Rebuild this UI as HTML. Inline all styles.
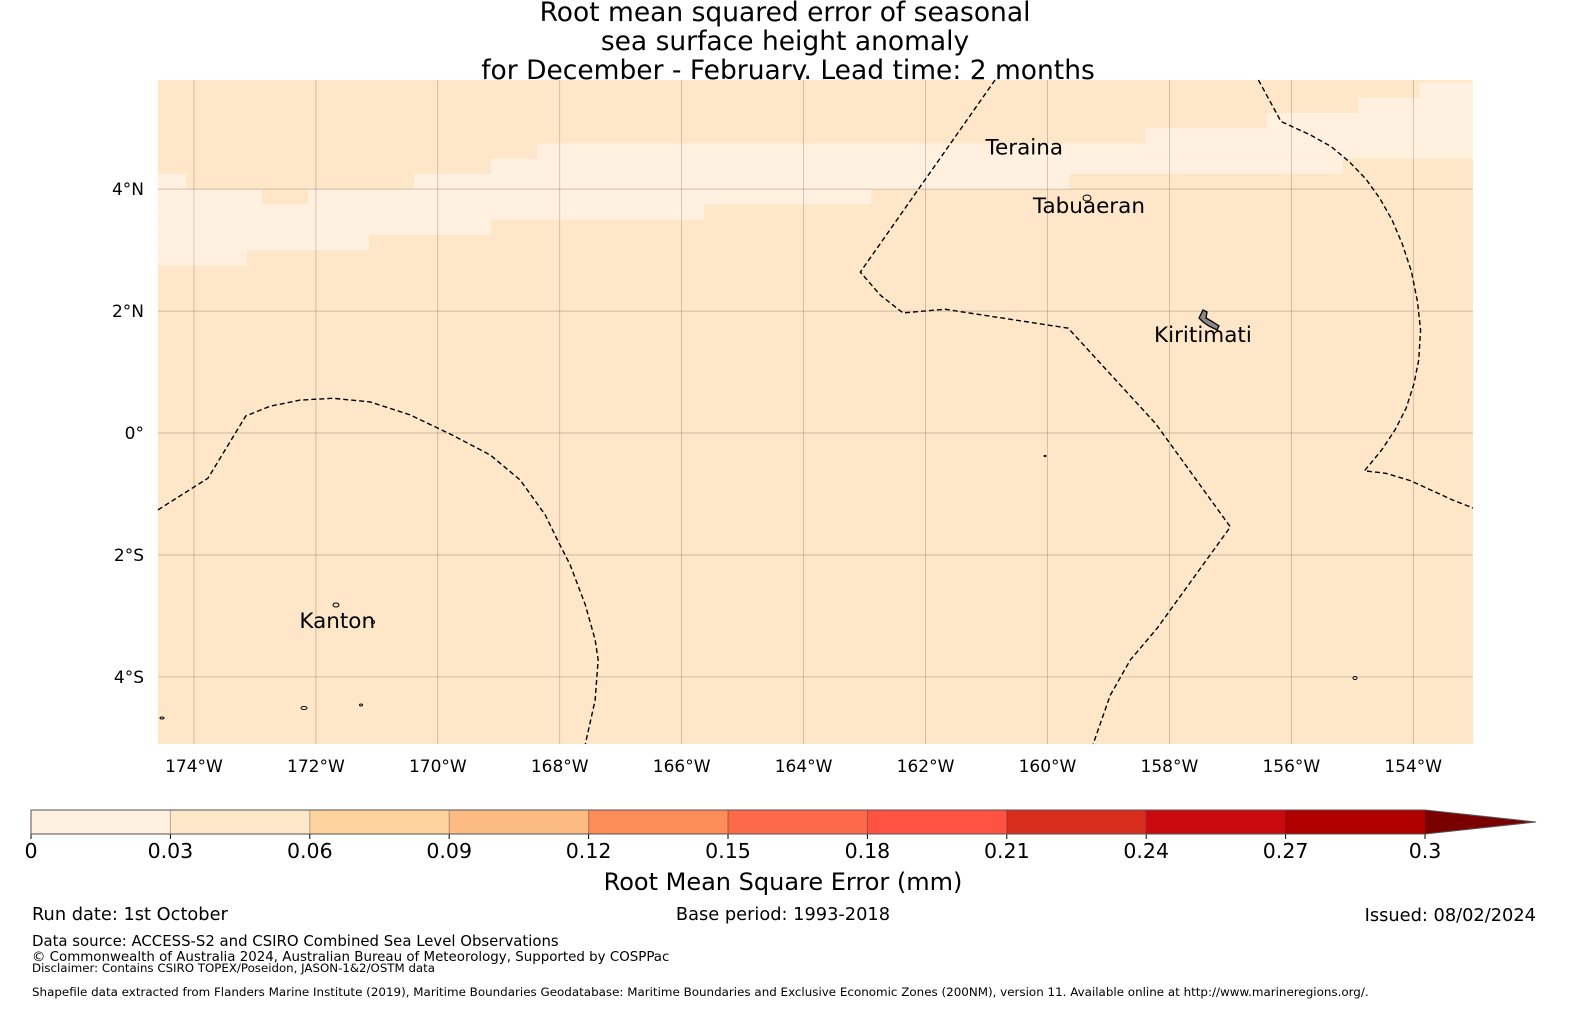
<!DOCTYPE html>
<html><head><meta charset="utf-8"><style>
body{margin:0;background:#fff;}
svg{display:block;font-family:"DejaVu Sans","Liberation Sans",sans-serif;}
</style></head><body>
<svg width="1590" height="1020" viewBox="0 0 1590 1020">
<g id="titles" font-size="26.5" text-anchor="middle" fill="#000">
<text x="785" y="21">Root mean squared error of seasonal</text>
<text x="785" y="50">sea surface height anomaly</text>
<text x="788" y="79">for December - February. Lead time: 2 months</text>
</g>
<g id="map"></g>
<g id="cbar"></g>
<text x="783" y="890" font-size="24" text-anchor="middle">Root Mean Square Error (mm)</text>
<g font-size="17.8">
<text x="32" y="920">Run date: 1st October</text>
<text x="783" y="920" text-anchor="middle">Base period: 1993-2018</text>
<text x="1536" y="921" text-anchor="end">Issued: 08/02/2024</text>
<text x="32" y="946" font-size="14.9">Data source: ACCESS-S2 and CSIRO Combined Sea Level Observations</text>
<text x="32" y="961" font-size="13.4">© Commonwealth of Australia 2024, Australian Bureau of Meteorology, Supported by COSPPac</text>
<text x="32" y="972" font-size="11.8">Disclaimer: Contains CSIRO TOPEX/Poseidon, JASON-1&amp;2/OSTM data</text>
<text x="32" y="996" font-size="11.9">Shapefile data extracted from Flanders Marine Institute (2019), Maritime Boundaries Geodatabase: Maritime Boundaries and Exclusive Economic Zones (200NM), version 11. Available online at http://www.marineregions.org/.</text>
</g>
</svg>
<script>
const NS='http://www.w3.org/2000/svg';
const lonTicks=[-174,-172,-170,-168,-166,-164,-162,-160,-158,-156,-154];
const latTicks=[4,2,0,-2,-4];
const lonRange=[-174.59,-153.02];
const latRange=[5.79,-5.1];
const cbLevels=[0,0.03,0.06,0.09,0.12,0.15,0.18,0.21,0.24,0.27,0.3];
const cbColors=['#fff0df','#fee6c8','#fdd49e','#fdbb84','#fc8d59','#fc6a4a','#fe5343','#d92e1e','#cb0a0f','#b00000'];
const cbExtend='#7a0000';
const baseValue=0.045;
// light cells [lon0, lon1, latTop, latBottom, value]
const cellLon0=[-174.59,-170.39,-169.13,-168.37,-158.40,-158.40,-156.40,-154.90,-153.90,-174.59,-172.13,-174.59,-174.59,-174.59,-174.59];
const cellLon1=[-174.13,-159.64,-168.37,-158.40,-156.40,-155.15,-154.90,-153.90,-153.02,-172.88,-162.89,-165.63,-169.13,-171.13,-173.13];
const cellLatT=[4.25,4.25,4.5,4.75,5.0,4.5,5.25,5.5,5.75,4.0,4.0,3.75,3.5,3.25,3.0];
const cellLatB=[4.0,4.0,4.25,4.25,4.5,4.25,4.5,4.5,4.5,3.75,3.75,3.5,3.25,3.0,2.75];
const cellVal=[0.025,0.025,0.025,0.025,0.025,0.025,0.025,0.025,0.025,0.025,0.025,0.025,0.025,0.025,0.025];
const eez1=[[-174.59,-1.26],[-173.77,-0.74],[-173.15,0.28],[-172.75,0.44],[-172.26,0.54],[-171.72,0.57],[-171.11,0.51],[-170.46,0.30],[-169.77,-0.03],[-169.14,-0.36],[-168.65,-0.77],[-168.24,-1.34],[-168.04,-1.75],[-167.83,-2.16],[-167.58,-2.82],[-167.42,-3.39],[-167.37,-3.72],[-167.42,-4.38],[-167.58,-5.10]];
const eez2=[[-160.86,5.79],[-163.07,2.64],[-162.74,2.26],[-162.37,1.97],[-161.68,2.03],[-159.66,1.72],[-158.23,0.16],[-157.00,-1.54],[-158.20,-3.20],[-158.64,-3.72],[-158.97,-4.30],[-159.17,-4.87],[-159.25,-5.10]];
const eez3=[[-156.54,5.79],[-156.17,5.11],[-155.69,4.89],[-155.35,4.70],[-155.05,4.45],[-154.78,4.17],[-154.55,3.85],[-154.35,3.50],[-154.18,3.10],[-154.03,2.65],[-153.93,2.15],[-153.88,1.69],[-153.91,1.20],[-153.99,0.80],[-154.12,0.40],[-154.30,0.05],[-154.52,-0.28],[-154.80,-0.62],[-154.45,-0.66],[-154.05,-0.78],[-153.70,-0.94],[-153.35,-1.10],[-153.02,-1.23]];
const placeNames=['Teraina','Tabuaeran','Kiritimati','Kanton'];
const placeLon=[-160.38,-159.32,-157.45,-171.65];
const placeLat=[4.68,3.72,1.61,-3.08];

const X0=158,X1=1473,Y0=80,Y1=744;
const xs=l=>X0+(l-lonRange[0])/(lonRange[1]-lonRange[0])*(X1-X0);
const ys=l=>Y0+(l-latRange[0])/(latRange[1]-latRange[0])*(Y1-Y0);
function colorFor(v){for(let i=0;i<cbColors.length;i++){if(v<cbLevels[i+1])return cbColors[i];}return cbExtend;}
function mk(tag,attrs,parent){const e=document.createElementNS(NS,tag);for(const k in attrs)e.setAttribute(k,attrs[k]);parent.appendChild(e);return e;}
const map=document.getElementById('map');
let bg=mk('rect',{x:X0,y:Y0,width:X1-X0,height:Y1-Y0,fill:colorFor(baseValue)},map);


for(let i=0;i<cellLon0.length;i++){
 const r=mk('rect',{x:xs(cellLon0[i]),y:ys(cellLatT[i]),width:xs(cellLon1[i])-xs(cellLon0[i]),height:ys(cellLatB[i])-ys(cellLatT[i]),fill:colorFor(cellVal[i])},map);
 
 
}
lonTicks.forEach((t,i)=>{
 const x=xs(t);
 const l=mk('line',{x1:x,x2:x,y1:Y0,y2:Y1,stroke:'#000','stroke-opacity':0.25,'stroke-width':0.7},map);
 
 
 const tx=mk('text',{x:x,y:772,'font-size':17,'text-anchor':'middle'},map);
 tx.textContent=Math.abs(t)+'°W';
 
 
});
latTicks.forEach(t=>{
 const y=ys(t);
 const l=mk('line',{x1:X0,x2:X1,y1:y,y2:y,stroke:'#000','stroke-opacity':0.25,'stroke-width':0.7},map);
 
 
 const tx=mk('text',{x:144,y:y+6,'font-size':17,'text-anchor':'end'},map);
 tx.textContent=t===0?'0°':Math.abs(t)+'°'+(t>0?'N':'S');
 
 
});
[eez1,eez2,eez3].forEach(p=>{
 const pl=mk('polyline',{points:p.map(q=>xs(q[0])+','+ys(q[1])).join(' '),fill:'none',stroke:'#000','stroke-width':1.4,'stroke-dasharray':'5,3'},map);
 
 
});
const isl=mk('path',{d:'M1199,318 L1203,310 L1207,312 L1206,318 L1213,322 L1219,326 L1217,330 L1209,326 L1203,322 Z',fill:'#888',stroke:'#000','stroke-width':1.3},map);


[[1087,198,4,3],[336,605,3,2],[1045,456,1,0.6],[1355,678,2,1.5],[304,708,3,1.5],[361,705,1.5,1],[162,718,2,1],[373,622,1.5,1.5]].forEach(a=>{
 const e=mk('ellipse',{cx:a[0],cy:a[1],rx:a[2],ry:a[3],fill:'none',stroke:'#000','stroke-width':1},map);
 
 
});
placeNames.forEach((n,i)=>{
 const tx=mk('text',{x:xs(placeLon[i]),y:ys(placeLat[i])+7,'font-size':21.5,'text-anchor':'middle'},map);
 tx.textContent=n;
 
 
});
const cb=document.getElementById('cbar');
const CX0=31,CX1=1425,CY0=810,CY1=834;
const cx=v=>CX0+(v-cbLevels[0])/(cbLevels[cbLevels.length-1]-cbLevels[0])*(CX1-CX0);
cbColors.forEach((c,i)=>{
 const r=mk('rect',{x:cx(cbLevels[i]),y:CY0,width:cx(cbLevels[i+1])-cx(cbLevels[i]),height:CY1-CY0,fill:c},cb);
 
 
});
const tri=mk('polygon',{points:`${CX1},${CY0} 1536,${(CY0+CY1)/2} ${CX1},${CY1}`,fill:cbExtend},cb);


cbLevels.forEach((v,i)=>{
 const x=cx(v);
 if(i>0&&i<cbLevels.length-1){const l=mk('line',{x1:x,x2:x,y1:CY0,y2:CY1,stroke:'#000','stroke-opacity':0.3,'stroke-width':1},cb);
 
 }
 const tk=mk('line',{x1:x,x2:x,y1:CY1,y2:CY1+5,stroke:'#000','stroke-width':1},cb);
 
 
 const tx=mk('text',{x:x,y:858,'font-size':20.5,'text-anchor':'middle'},cb);
 tx.textContent=String(v);
 
 
});
const ol=mk('polygon',{points:`${CX0},${CY0} ${CX1},${CY0} 1536,${(CY0+CY1)/2} ${CX1},${CY1} ${CX0},${CY1}`,fill:'none',stroke:'#555','stroke-width':1},cb);


</script>
</body></html>
